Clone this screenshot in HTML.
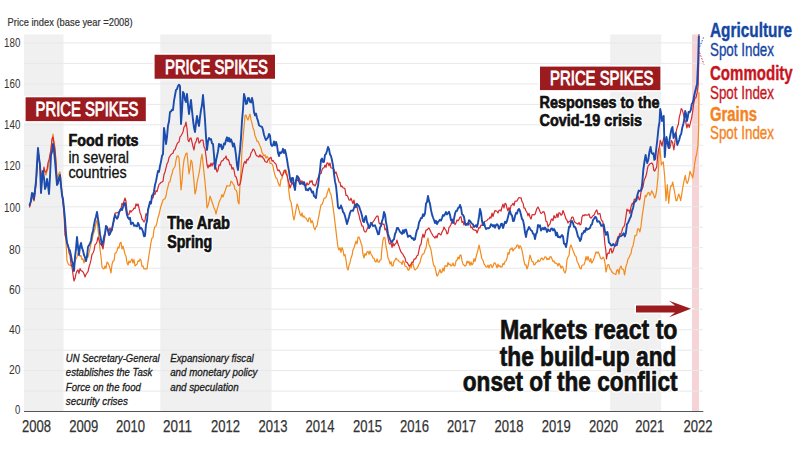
<!DOCTYPE html>
<html><head><meta charset="utf-8"><style>
html,body{margin:0;padding:0;background:#fff;}
svg{display:block;font-family:"Liberation Sans",sans-serif;}
</style></head><body>
<svg width="800" height="450" viewBox="0 0 800 450">
<rect width="800" height="450" fill="#fff"/>
<!-- bands -->
<rect x="24" y="34.5" width="39.5" height="377" fill="#f0f0f0"/>
<rect x="160.3" y="34.5" width="111.2" height="377" fill="#f0f0f0"/>
<rect x="610.2" y="34.5" width="51" height="377" fill="#f0f0f0"/>
<rect x="692" y="34.5" width="7" height="377" fill="#f6d3d5"/>
<g stroke="#e8e8e8" stroke-width="1">
<line x1="24" y1="391.1" x2="703" y2="391.1"/>
<line x1="24" y1="370.6" x2="703" y2="370.6"/>
<line x1="24" y1="350.2" x2="703" y2="350.2"/>
<line x1="24" y1="329.7" x2="703" y2="329.7"/>
<line x1="24" y1="309.2" x2="703" y2="309.2"/>
<line x1="24" y1="288.7" x2="703" y2="288.7"/>
<line x1="24" y1="268.2" x2="703" y2="268.2"/>
<line x1="24" y1="247.7" x2="703" y2="247.7"/>
<line x1="24" y1="227.3" x2="703" y2="227.3"/>
<line x1="24" y1="206.8" x2="703" y2="206.8"/>
<line x1="24" y1="186.3" x2="703" y2="186.3"/>
<line x1="24" y1="165.8" x2="703" y2="165.8"/>
<line x1="24" y1="145.3" x2="703" y2="145.3"/>
<line x1="24" y1="124.8" x2="703" y2="124.8"/>
<line x1="24" y1="104.4" x2="703" y2="104.4"/>
<line x1="24" y1="83.9" x2="703" y2="83.9"/>
<line x1="24" y1="63.4" x2="703" y2="63.4"/>
<line x1="24" y1="42.9" x2="703" y2="42.9"/>
</g>
<line x1="24" y1="411.5" x2="703.3" y2="411.5" stroke="#555" stroke-width="1.1"/>
<g font-size="12.8" fill="#333" text-anchor="end">
<text x="20.4" y="414.2" textLength="5.3" lengthAdjust="spacingAndGlyphs">0</text>
<text x="20.4" y="374.2" textLength="11.5" lengthAdjust="spacingAndGlyphs">20</text>
<text x="20.4" y="334.2" textLength="11.5" lengthAdjust="spacingAndGlyphs">40</text>
<text x="20.4" y="294.4" textLength="11.5" lengthAdjust="spacingAndGlyphs">60</text>
<text x="20.4" y="254.1" textLength="11.5" lengthAdjust="spacingAndGlyphs">80</text>
<text x="20.4" y="212.1" textLength="16.3" lengthAdjust="spacingAndGlyphs">100</text>
<text x="20.4" y="170.2" textLength="16.3" lengthAdjust="spacingAndGlyphs">120</text>
<text x="20.4" y="129.4" textLength="16.3" lengthAdjust="spacingAndGlyphs">140</text>
<text x="20.4" y="88.4" textLength="16.3" lengthAdjust="spacingAndGlyphs">160</text>
<text x="20.4" y="47.4" textLength="16.3" lengthAdjust="spacingAndGlyphs">180</text>
</g>
<g font-size="17.4" fill="#333" stroke="#333" stroke-width="0.25">
<text x="36.6" y="431.5" text-anchor="middle" textLength="29" lengthAdjust="spacingAndGlyphs">2008</text>
<text x="83.8" y="431.5" text-anchor="middle" textLength="29" lengthAdjust="spacingAndGlyphs">2009</text>
<text x="130.6" y="431.5" text-anchor="middle" textLength="29" lengthAdjust="spacingAndGlyphs">2010</text>
<text x="177.5" y="431.5" text-anchor="middle" textLength="29" lengthAdjust="spacingAndGlyphs">2011</text>
<text x="225.4" y="431.5" text-anchor="middle" textLength="29" lengthAdjust="spacingAndGlyphs">2012</text>
<text x="272.9" y="431.5" text-anchor="middle" textLength="29" lengthAdjust="spacingAndGlyphs">2013</text>
<text x="320.0" y="431.5" text-anchor="middle" textLength="29" lengthAdjust="spacingAndGlyphs">2014</text>
<text x="367.4" y="431.5" text-anchor="middle" textLength="29" lengthAdjust="spacingAndGlyphs">2015</text>
<text x="414.6" y="431.5" text-anchor="middle" textLength="29" lengthAdjust="spacingAndGlyphs">2016</text>
<text x="461.6" y="431.5" text-anchor="middle" textLength="29" lengthAdjust="spacingAndGlyphs">2017</text>
<text x="508.9" y="431.5" text-anchor="middle" textLength="29" lengthAdjust="spacingAndGlyphs">2018</text>
<text x="556.2" y="431.5" text-anchor="middle" textLength="29" lengthAdjust="spacingAndGlyphs">2019</text>
<text x="603.4" y="431.5" text-anchor="middle" textLength="29" lengthAdjust="spacingAndGlyphs">2020</text>
<text x="649.8" y="431.5" text-anchor="middle" textLength="29" lengthAdjust="spacingAndGlyphs">2021</text>
<text x="697.9" y="431.5" text-anchor="middle" textLength="29" lengthAdjust="spacingAndGlyphs">2022</text>
</g>
<text x="7.6" y="26" font-size="11" fill="#333" stroke="#333" stroke-width="0.2" textLength="125" lengthAdjust="spacingAndGlyphs">Price index (base year =2008)</text>
<!-- series -->
<g fill="none" stroke-linejoin="round" stroke-linecap="round">
<polyline points="29.6,207.0 30.8,201.2 32.0,195.0 33.0,199.6 34.0,200.0 35.0,188.7 36.0,182.0 37.0,168.5 38.0,150.0 39.0,156.7 40.0,166.0 41.0,172.0 42.0,178.0 43.0,176.5 44.0,170.0 45.0,171.9 46.0,175.0 47.0,171.1 48.0,168.2 49.0,163.0 50.0,157.0 51.0,148.0 52.0,140.4 53.0,134.0 54.0,142.2 55.0,148.0 56.0,160.9 57.0,178.0 58.0,176.1 59.0,173.2 60.0,172.0 61.0,180.5 62.0,193.0 63.0,199.6 64.0,210.0 65.0,228.0 66.0,242.4 67.0,261.0 68.0,263.3 69.0,265.0 70.0,265.1 71.0,265.6 72.0,266.8 73.0,267.0 74.0,261.8 75.0,262.1 76.0,258.8 77.0,257.0 78.0,253.0 79.0,252.8 80.0,256.3 81.0,255.5 82.0,259.7 83.0,258.8 84.0,263.0 85.0,259.5 86.0,261.4 87.0,254.5 88.0,257.2 89.0,253.0 90.0,248.3 91.0,243.5 92.0,240.4 93.0,235.0 94.0,231.8 95.0,229.1 96.0,222.8 97.0,220.0 98.0,229.0 99.0,238.5 100.0,249.0 101.0,256.6 102.0,267.0 103.0,268.4 104.0,269.0 105.0,266.0 106.0,268.3 107.0,262.0 108.0,263.0 109.0,265.3 110.0,268.4 111.0,273.0 112.0,264.5 113.0,261.0 114.0,260.8 115.0,253.2 116.0,253.0 117.0,250.9 118.0,247.0 119.0,248.0 120.0,243.0 121.0,242.2 122.0,249.0 123.0,246.1 124.0,250.0 125.0,254.2 126.0,256.2 127.0,262.8 128.0,265.0 129.0,261.0 130.0,262.7 131.0,260.8 132.0,259.0 133.0,263.0 134.0,259.5 135.0,266.0 136.0,265.0 137.0,264.2 138.0,260.9 139.0,261.4 140.0,259.0 141.0,260.4 142.0,266.5 143.0,266.0 144.0,269.0 145.0,268.8 146.0,268.7 147.0,269.0 148.0,261.8 149.0,255.0 150.0,249.1 151.0,242.2 152.0,238.0 153.0,237.5 154.0,229.5 155.0,226.5 156.0,226.0 157.0,222.7 158.0,217.5 159.0,214.8 160.0,210.0 161.0,206.0 162.0,203.3 163.0,200.0 164.0,199.2 165.0,198.8 166.0,196.0 167.0,190.1 168.0,186.5 169.0,182.0 170.0,181.8 171.0,176.7 172.0,174.0 173.0,169.3 174.0,168.0 175.0,166.5 176.0,160.4 177.0,156.0 178.0,155.8 179.0,158.0 180.0,172.4 181.0,190.0 182.0,181.1 183.0,168.2 184.0,160.0 185.0,156.5 186.0,153.5 187.0,153.0 188.0,163.3 189.0,174.0 190.0,169.0 191.0,160.0 192.0,162.0 193.0,171.2 194.0,181.4 195.0,194.0 196.0,190.5 197.0,182.8 198.0,178.0 199.0,173.6 200.0,167.5 201.0,159.2 202.0,154.0 203.0,163.4 204.0,172.6 205.0,182.0 206.0,193.1 207.0,208.0 208.0,205.8 209.0,201.7 210.0,196.0 211.0,198.7 212.0,201.7 213.0,204.7 214.0,208.0 215.0,209.8 216.0,214.0 217.0,209.6 218.0,206.6 219.0,202.2 220.0,200.0 221.0,198.2 222.0,194.5 223.0,197.0 224.0,194.0 225.0,191.6 226.0,188.2 227.0,185.5 228.0,186.0 229.0,185.9 230.0,185.6 231.0,181.2 232.0,182.0 233.0,183.8 234.0,185.1 235.0,189.4 236.0,190.0 237.0,192.6 238.0,201.7 239.0,204.0 240.0,184.6 241.0,170.0 242.0,150.0 243.0,138.0 244.0,127.2 245.0,116.0 246.0,114.9 247.0,118.4 248.0,120.0 249.0,116.7 250.0,114.0 251.0,119.9 252.0,123.3 253.0,128.0 254.0,130.2 255.0,135.8 256.0,138.0 257.0,141.3 258.0,141.3 259.0,143.5 260.0,146.0 261.0,148.0 262.0,152.6 263.0,153.9 264.0,156.0 265.0,154.8 266.0,158.2 267.0,156.3 268.0,158.0 269.0,158.7 270.0,163.4 271.0,163.1 272.0,164.0 273.0,166.1 274.0,171.6 275.0,175.1 276.0,178.0 277.0,178.7 278.0,182.3 279.0,185.0 280.0,186.0 281.0,179.2 282.0,178.8 283.0,173.0 284.0,172.8 285.0,171.6 286.0,170.0 287.0,173.5 288.0,182.0 289.0,192.4 290.0,200.0 291.0,202.0 292.0,208.0 293.0,215.7 294.0,220.0 295.0,215.1 296.0,209.5 297.0,204.0 298.0,206.0 299.0,210.1 300.0,214.0 301.0,216.1 302.0,212.9 303.0,217.1 304.0,216.0 305.0,217.7 306.0,218.1 307.0,220.0 308.0,221.8 309.0,217.9 310.0,218.0 311.0,223.0 312.0,220.5 313.0,223.0 314.0,228.0 315.0,229.8 316.0,226.9 317.0,226.0 318.0,220.1 319.0,215.5 320.0,210.0 321.0,204.8 322.0,204.5 323.0,202.0 324.0,198.3 325.0,198.2 326.0,197.4 327.0,194.0 328.0,190.6 329.0,188.0 330.0,192.8 331.0,194.5 332.0,200.0 333.0,206.8 334.0,214.0 335.0,222.9 336.0,230.8 337.0,240.0 338.0,247.4 339.0,250.0 340.0,247.7 341.0,252.5 342.0,247.5 343.0,250.0 344.0,255.8 345.0,254.5 346.0,260.0 347.0,267.5 348.0,270.0 349.0,265.4 350.0,262.9 351.0,258.0 352.0,255.6 353.0,249.9 354.0,248.0 355.0,244.5 356.0,241.1 357.0,243.9 358.0,237.1 359.0,237.0 360.0,239.7 361.0,243.0 362.0,246.0 363.0,254.5 364.0,258.0 365.0,253.5 366.0,255.3 367.0,252.0 368.0,251.4 369.0,254.3 370.0,251.0 371.0,254.0 372.0,255.5 373.0,258.0 374.0,258.0 375.0,261.2 376.0,262.0 377.0,258.9 378.0,262.0 379.0,262.2 380.0,260.2 381.0,260.0 382.0,247.8 383.0,240.0 384.0,237.3 385.0,238.0 386.0,246.5 387.0,251.1 388.0,258.0 389.0,259.8 390.0,264.1 391.0,261.6 392.0,266.0 393.0,265.8 394.0,261.4 395.0,260.1 396.0,258.0 397.0,259.8 398.0,260.0 399.0,261.4 400.0,262.0 401.0,262.3 402.0,264.5 403.0,260.6 404.0,262.0 405.0,266.2 406.0,266.3 407.0,267.3 408.0,270.0 409.0,270.1 410.0,265.0 411.0,268.0 412.0,264.0 413.0,263.7 414.0,268.0 415.0,270.0 416.0,269.1 417.0,268.2 418.0,266.6 419.0,264.0 420.0,262.6 421.0,258.3 422.0,255.1 423.0,254.0 424.0,253.4 425.0,250.0 426.0,248.0 427.0,241.4 428.0,238.0 429.0,244.7 430.0,246.6 431.0,250.0 432.0,256.0 433.0,262.3 434.0,266.0 435.0,266.8 436.0,272.0 437.0,276.0 438.0,274.9 439.0,272.0 440.0,269.5 441.0,272.9 442.0,272.0 443.0,268.0 444.0,271.1 445.0,265.5 446.0,266.0 447.0,266.5 448.0,262.5 449.0,264.8 450.0,264.0 451.0,266.0 452.0,265.2 453.0,263.0 454.0,266.0 455.0,265.9 456.0,261.0 457.0,260.2 458.0,257.1 459.0,259.0 460.0,255.0 461.0,255.0 462.0,260.7 463.0,264.1 464.0,265.0 465.0,266.2 466.0,265.6 467.0,261.1 468.0,263.0 469.0,261.3 470.0,265.4 471.0,262.0 472.0,265.0 473.0,263.7 474.0,258.6 475.0,261.5 476.0,257.0 477.0,253.5 478.0,249.8 479.0,245.0 480.0,249.4 481.0,254.5 482.0,259.0 483.0,260.4 484.0,263.8 485.0,265.1 486.0,267.0 487.0,267.2 488.0,265.0 489.0,268.0 490.0,265.0 491.0,264.6 492.0,267.5 493.0,266.4 494.0,263.0 495.0,262.8 496.0,265.0 497.0,267.8 498.0,264.1 499.0,266.7 500.0,265.7 501.0,267.1 502.0,267.0 503.0,263.3 504.0,264.6 505.0,261.5 506.0,261.0 507.0,258.3 508.0,252.5 509.0,254.3 510.0,249.0 511.0,249.4 512.0,247.8 513.0,251.0 514.0,249.1 515.0,248.2 516.0,247.5 517.0,245.0 518.0,245.1 519.0,248.5 520.0,245.7 521.0,247.0 522.0,250.3 523.0,255.7 524.0,261.0 525.0,265.2 526.0,264.8 527.0,269.0 528.0,266.3 529.0,260.7 530.0,255.0 531.0,258.1 532.0,261.5 533.0,261.7 534.0,265.0 535.0,264.6 536.0,262.6 537.0,262.3 538.0,259.9 539.0,261.6 540.0,261.0 541.0,258.5 542.0,257.9 543.0,259.9 544.0,258.8 545.0,256.9 546.0,257.0 547.0,259.8 548.0,258.4 549.0,259.5 550.0,256.8 551.0,256.7 552.0,259.0 553.0,261.6 554.0,260.9 555.0,263.3 556.0,263.0 557.0,263.8 558.0,266.0 559.0,263.3 560.0,265.0 561.0,268.2 562.0,266.1 563.0,267.3 564.0,271.5 565.0,273.0 566.0,270.2 567.0,259.8 568.0,257.0 569.0,255.5 570.0,247.0 571.0,245.0 572.0,247.7 573.0,250.4 574.0,253.0 575.0,255.8 576.0,256.2 577.0,261.3 578.0,263.0 579.0,265.5 580.0,268.3 581.0,269.0 582.0,265.3 583.0,265.0 584.0,264.7 585.0,261.7 586.0,256.5 587.0,260.2 588.0,256.3 589.0,260.0 589.9,261.7 590.8,258.5 591.6,263.0 592.5,262.0 593.8,258.9 595.0,255.0 596.0,251.9 597.0,253.0 598.2,252.0 599.5,255.0 600.5,258.0 601.5,259.0 602.2,258.7 603.0,257.0 604.0,258.4 605.0,263.0 606.0,272.0 606.8,268.6 607.5,265.0 608.8,264.5 610.0,269.0 611.0,270.0 612.0,272.0 613.0,273.0 613.8,273.6 614.5,274.0 615.8,274.5 617.0,270.0 618.0,269.5 619.0,274.0 620.0,267.5 621.0,266.0 622.0,269.1 623.0,269.0 623.8,270.4 624.5,275.0 625.2,271.5 626.0,266.0 627.0,263.4 628.0,259.0 629.0,257.7 630.0,255.0 631.0,253.7 632.0,248.0 633.0,246.0 634.0,241.0 634.9,235.5 635.8,235.8 636.7,234.5 637.6,229.0 638.8,228.9 639.9,232.0 641.0,226.4 642.2,215.6 643.3,208.7 644.3,201.6 645.3,195.3 646.2,196.9 647.1,194.5 648.0,192.7 648.9,192.4 649.8,195.4 650.7,194.0 651.7,190.8 652.7,192.7 653.7,195.0 654.7,198.0 655.7,195.7 656.7,190.0 658.0,176.7 659.3,152.0 660.0,148.0 661.3,165.0 662.3,163.0 663.3,162.0 664.7,176.7 666.0,200.7 667.3,184.7 668.7,203.3 670.0,190.0 670.9,185.7 671.8,186.0 672.7,182.0 673.7,187.4 674.7,192.7 676.0,200.7 676.9,200.6 677.8,197.1 678.7,194.0 679.7,196.6 680.7,200.7 681.6,194.8 682.4,190.0 683.3,184.7 684.3,179.6 685.3,175.3 686.3,181.8 687.3,183.3 688.2,181.1 689.1,177.0 690.0,171.3 690.9,173.6 691.8,175.3 692.7,178.0 693.7,172.3 694.7,163.3 695.7,157.5 696.7,154.0 698.0,145.0 698.6,130.0 699.0,92.7" stroke="#f38a1c" stroke-width="1.2"/>
<polyline points="29.6,207.0 30.8,201.9 32.0,196.0 33.0,196.0 34.0,201.0 35.0,193.2 36.0,185.0 37.0,170.9 38.0,152.0 39.0,157.5 40.0,168.0 41.0,172.3 42.0,180.0 43.0,173.8 44.0,167.0 45.0,172.0 46.0,172.0 47.0,169.6 48.0,162.8 49.0,160.0 50.0,154.6 51.0,150.0 52.0,139.0 53.0,137.0 54.0,143.5 55.0,150.0 56.0,163.4 57.0,180.0 58.0,179.9 59.0,177.9 60.0,178.0 61.0,184.2 62.0,195.0 63.0,203.8 64.0,213.0 65.0,235.0 66.0,238.6 67.0,241.7 68.0,245.6 69.0,253.0 70.0,255.0 71.0,264.0 72.0,266.6 73.0,274.3 74.0,281.0 75.0,278.6 76.0,273.6 77.0,271.0 78.0,269.9 79.0,273.5 80.0,268.5 81.0,270.6 82.0,271.0 83.0,272.0 84.0,273.8 85.0,277.0 86.0,274.5 87.0,273.0 88.0,271.6 89.0,267.0 90.0,263.9 91.0,259.9 92.0,254.4 93.0,253.0 94.0,250.4 95.0,244.8 96.0,243.9 97.0,241.7 98.0,237.0 99.0,239.8 100.0,243.0 101.0,244.7 102.0,245.8 103.0,249.0 104.0,242.7 105.0,235.7 106.0,229.0 107.0,227.7 108.0,229.4 109.0,231.6 110.0,227.8 111.0,230.8 112.0,231.0 113.0,223.0 114.0,221.5 115.0,213.0 116.0,212.8 117.0,213.0 118.0,212.2 119.0,211.8 120.0,211.0 121.0,208.8 122.0,203.3 123.0,204.5 124.0,201.2 125.0,198.0 126.0,201.2 127.0,211.6 128.0,215.0 129.0,214.3 130.0,210.5 131.0,212.1 132.0,210.5 133.0,210.0 134.0,208.1 135.0,208.5 136.0,203.9 137.0,205.7 138.0,204.0 139.0,208.0 140.0,212.7 141.0,214.9 142.0,219.0 143.0,220.2 144.0,222.0 145.0,220.3 146.0,213.5 147.0,215.5 148.0,210.0 149.0,206.2 150.0,203.6 151.0,202.6 152.0,197.9 153.0,198.0 154.0,193.5 155.0,194.3 156.0,190.6 157.0,191.7 158.0,188.0 159.0,184.4 160.0,183.5 161.0,182.4 162.0,182.0 163.0,181.2 164.0,174.5 165.0,172.0 166.0,167.9 167.0,163.9 168.0,162.0 169.0,157.6 170.0,156.0 171.0,154.7 172.0,153.7 173.0,153.2 174.0,150.0 175.0,149.7 176.0,146.8 177.0,144.1 178.0,142.5 179.0,142.0 180.0,136.8 181.0,135.8 182.0,134.0 183.0,132.0 184.0,127.1 185.0,126.0 186.0,122.0 187.0,128.5 188.0,140.0 189.0,141.7 190.0,138.3 191.0,138.0 192.0,142.2 193.0,146.6 194.0,150.0 195.0,143.5 196.0,141.9 197.0,138.0 198.0,137.8 199.0,143.2 200.0,142.0 201.0,140.1 202.0,140.2 203.0,140.0 204.0,146.9 205.0,148.3 206.0,156.0 207.0,164.5 208.0,168.0 209.0,164.9 210.0,166.6 211.0,163.2 212.0,166.0 213.0,163.0 214.0,162.8 215.0,169.5 216.0,167.6 217.0,172.0 218.0,170.3 219.0,164.8 220.0,165.7 221.0,162.0 222.0,160.7 223.0,160.6 224.0,158.6 225.0,158.2 226.0,156.0 227.0,159.6 228.0,159.4 229.0,161.1 230.0,165.0 231.0,164.6 232.0,169.2 233.0,167.5 234.0,170.0 235.0,176.0 236.0,176.8 237.0,179.8 238.0,185.0 239.0,185.4 240.0,184.2 241.0,180.0 242.0,173.2 243.0,167.5 244.0,163.0 245.0,161.2 246.0,163.4 247.0,159.1 248.0,160.0 249.0,157.7 250.0,156.8 251.0,153.0 252.0,151.5 253.0,149.0 254.0,149.7 255.0,151.8 256.0,154.8 257.0,156.0 258.0,156.1 259.0,157.0 260.0,154.8 261.0,157.0 262.0,156.0 263.0,158.0 264.0,159.0 265.0,161.5 266.0,162.0 267.0,162.4 268.0,159.9 269.0,159.2 270.0,158.0 271.0,157.3 272.0,161.2 273.0,160.4 274.0,162.0 275.0,163.3 276.0,163.9 277.0,168.2 278.0,170.9 279.0,170.0 280.0,171.9 281.0,174.2 282.0,176.0 283.0,174.7 284.0,170.8 285.0,170.0 286.0,173.9 287.0,175.3 288.0,180.0 289.0,183.4 290.0,188.0 291.0,185.6 292.0,182.0 293.0,184.2 294.0,186.0 295.0,183.7 296.0,180.7 297.0,180.0 298.0,180.9 299.0,177.8 300.0,180.0 301.0,183.1 302.0,180.7 303.0,183.5 304.0,185.2 305.0,185.5 306.0,186.0 307.0,182.8 308.0,184.8 309.0,184.1 310.0,180.8 311.0,182.0 312.0,180.5 313.0,184.8 314.0,184.7 315.0,186.0 316.0,184.1 317.0,180.3 318.0,178.0 319.0,175.0 320.0,173.6 321.0,173.7 322.0,169.8 323.0,168.0 324.0,167.9 325.0,165.0 326.0,167.3 327.0,162.9 328.0,163.0 329.0,165.9 330.0,163.0 331.0,168.0 332.0,168.0 333.0,168.4 334.0,169.4 335.0,173.4 336.0,172.0 337.0,175.2 338.0,178.5 339.0,182.0 340.0,182.4 341.0,186.9 342.0,186.0 343.0,187.8 344.0,188.0 345.0,188.8 346.0,195.3 347.0,195.3 348.0,197.1 349.0,200.0 350.0,200.3 351.0,198.2 352.0,201.0 353.0,203.7 354.0,200.0 355.0,205.6 356.0,204.0 357.0,206.4 358.0,212.0 359.0,215.0 360.0,219.8 361.0,222.6 362.0,226.0 363.0,226.1 364.0,230.6 365.0,232.0 366.0,231.8 367.0,229.3 368.0,227.0 369.0,228.0 370.0,226.8 371.0,223.3 372.0,223.1 373.0,222.0 374.0,220.7 375.0,218.8 376.0,217.2 377.0,216.0 378.0,216.2 379.0,222.8 380.0,224.0 381.0,223.1 382.0,223.6 383.0,224.4 384.0,224.0 385.0,230.0 386.0,228.5 387.0,232.7 388.0,238.0 389.0,242.9 390.0,244.0 391.0,242.5 392.0,247.5 393.0,243.0 394.0,246.0 395.0,244.1 396.0,243.4 397.0,240.0 398.0,244.1 399.0,246.4 400.0,249.6 401.0,252.0 402.0,253.1 403.0,254.4 404.0,256.4 405.0,258.0 406.0,262.2 407.0,262.4 408.0,263.9 409.0,266.0 410.0,265.2 411.0,264.5 412.0,262.0 413.0,262.6 414.0,259.2 415.0,259.1 416.0,258.0 417.0,255.8 418.0,255.2 419.0,250.0 420.0,245.5 421.0,244.3 422.0,238.0 423.0,234.2 424.0,237.6 425.0,234.0 426.0,230.0 427.0,230.0 428.0,228.8 429.0,228.0 430.0,230.0 431.0,232.3 432.0,234.0 433.0,235.8 434.0,236.9 435.0,238.0 436.0,235.9 437.0,237.8 438.0,234.0 439.0,233.3 440.0,234.2 441.0,235.0 442.0,232.0 443.0,230.3 444.0,227.0 445.0,229.2 446.0,230.3 447.0,234.0 448.0,233.0 449.0,227.5 450.0,226.3 451.0,224.5 452.0,221.0 453.0,219.0 454.0,221.6 455.0,224.6 456.0,223.0 457.0,220.0 458.0,220.8 459.0,219.4 460.0,217.0 461.0,216.7 462.0,222.3 463.0,221.5 464.0,225.0 465.0,223.2 466.0,224.0 467.0,223.4 468.0,223.0 469.0,223.4 470.0,224.1 471.0,227.9 472.0,227.0 473.0,229.5 474.0,229.9 475.0,230.3 476.0,230.1 477.0,233.0 478.0,230.2 479.0,227.4 480.0,227.9 481.0,225.0 482.0,225.4 483.0,224.5 484.0,222.2 485.0,221.3 486.0,221.0 487.0,220.5 488.0,219.0 489.0,219.0 490.0,217.0 491.0,218.1 492.0,213.1 493.0,216.5 494.0,213.0 495.0,210.5 496.0,210.9 497.0,211.2 498.0,213.0 499.0,210.4 500.0,210.0 501.0,211.0 502.0,207.0 503.0,204.2 504.0,208.0 505.0,203.3 506.0,204.0 507.0,208.3 508.0,211.0 509.0,207.5 510.0,210.5 511.0,205.6 512.0,205.0 513.0,203.3 514.0,205.5 515.0,201.4 516.0,201.0 517.0,201.1 518.0,198.9 519.0,197.5 520.0,198.0 521.0,197.7 522.0,201.7 523.0,203.0 524.0,208.2 525.0,208.2 526.0,211.0 527.0,212.3 528.0,215.9 529.0,213.3 530.0,217.0 531.0,219.0 532.0,215.1 533.0,214.4 534.0,215.0 535.0,214.5 536.0,211.3 537.0,208.3 538.0,207.0 539.0,209.1 540.0,211.4 541.0,213.4 542.0,213.0 543.0,211.6 544.0,211.8 545.0,215.0 546.0,221.5 547.0,221.7 548.0,227.0 549.0,224.8 550.0,223.8 551.0,220.0 552.0,219.0 553.0,220.6 554.0,215.5 555.0,218.0 556.0,217.0 557.0,213.7 558.0,217.5 559.0,212.7 560.0,213.0 561.0,215.3 562.0,214.5 563.0,210.5 564.0,213.0 565.0,216.0 566.0,219.0 567.0,220.2 568.0,223.0 569.0,221.4 570.0,221.5 571.0,219.5 572.0,217.0 573.0,217.1 574.0,220.2 575.0,222.5 576.0,223.0 577.0,223.5 578.0,224.2 579.0,222.5 580.0,225.0 581.0,224.2 582.0,217.1 583.0,215.0 584.0,215.9 585.0,214.6 586.0,215.2 587.0,215.2 588.0,215.0 589.0,214.0 590.0,217.2 591.0,218.1 592.0,217.0 593.0,215.7 593.9,215.3 594.9,213.1 595.8,211.2 596.8,209.9 598.0,214.3 599.1,213.7 600.0,213.6 601.0,218.9 601.9,220.7 602.8,221.3 603.9,233.2 605.0,245.0 605.8,250.2 606.5,259.0 607.2,254.8 608.0,253.0 609.0,253.5 610.0,249.0 611.0,248.5 612.0,253.0 613.0,251.4 614.0,248.0 615.0,245.6 616.0,242.0 616.9,240.6 617.8,236.8 618.7,237.9 619.7,233.6 620.7,234.5 621.7,231.9 622.7,227.8 623.8,226.9 624.8,224.3 625.9,216.9 627.0,209.2 628.0,210.9 629.0,209.9 630.0,213.7 631.1,206.4 632.3,203.1 633.3,204.4 634.3,199.2 635.3,200.1 636.3,197.8 637.4,195.6 638.4,197.1 639.2,199.8 640.0,199.0 641.0,192.0 642.0,189.1 643.0,186.9 644.0,181.0 644.9,178.4 645.8,176.6 646.7,173.0 647.6,167.9 648.4,165.2 649.3,165.0 650.2,163.5 651.1,163.4 652.0,163.0 652.9,164.6 653.8,170.2 654.7,171.0 655.7,169.0 656.7,167.0 657.6,156.8 658.5,150.0 659.4,146.8 660.3,140.4 661.1,142.5 662.0,146.1 663.0,141.0 664.0,137.0 665.1,140.9 666.3,138.2 667.4,142.5 668.5,148.0 669.6,148.5 670.5,145.5 671.5,140.5 672.7,142.8 673.9,150.0 675.0,141.2 676.2,131.3 677.3,127.2 678.4,124.0 679.3,117.1 680.3,113.4 681.2,108.6 682.4,110.2 683.5,114.3 684.6,119.4 685.8,122.2 686.9,127.9 688.0,123.9 689.2,127.4 690.3,123.4 691.5,118.3 692.6,112.0 693.7,103.6 694.8,98.4 696.0,97.6 697.1,92.7 698.2,84.8 698.8,60.0 699.0,34.5" stroke="#d42a2f" stroke-width="1.2"/>
<polyline points="29.6,205.0 30.8,201.5 32.0,193.0 33.0,193.5 34.0,199.0 35.0,190.2 36.0,181.0 37.0,163.6 38.0,148.0 39.0,157.8 40.0,165.0 41.0,193.0 42.0,181.0 43.0,171.0 44.0,178.0 45.0,189.0 46.0,186.5 47.0,179.0 48.0,185.1 49.0,194.0 50.0,176.2 51.0,155.0 52.0,152.0 53.0,144.0 54.0,150.4 55.0,161.0 56.0,173.1 57.0,185.0 58.0,183.2 59.0,177.6 60.0,175.0 61.0,186.1 62.0,195.0 63.0,199.0 64.0,208.6 65.0,219.0 66.0,233.5 67.0,243.0 68.0,245.9 69.0,248.8 70.0,251.0 71.0,255.7 72.0,261.0 73.0,265.0 74.0,271.0 75.0,257.2 76.0,248.7 77.0,237.0 78.0,247.1 79.0,255.0 80.0,246.6 81.0,243.0 82.0,247.9 83.0,250.5 84.0,255.0 85.0,257.3 86.0,261.0 87.0,256.5 88.0,247.0 89.0,245.3 90.0,243.4 91.0,241.0 92.0,234.2 93.0,231.0 94.0,225.0 95.0,219.9 96.0,216.4 97.0,212.0 98.0,218.8 99.0,225.0 100.0,234.2 101.0,239.7 102.0,245.0 103.0,242.7 104.0,237.0 105.0,233.2 106.0,226.0 107.0,227.0 108.0,230.5 109.0,235.0 110.0,233.9 111.0,231.1 112.0,229.0 113.0,224.3 114.0,218.6 115.0,215.0 116.0,217.2 117.0,218.7 118.0,217.0 119.0,213.0 120.0,210.0 121.0,208.8 122.0,210.1 123.0,207.0 124.0,203.7 125.0,203.0 126.0,208.8 127.0,215.0 128.0,217.6 129.0,219.0 130.0,217.8 131.0,224.2 132.0,223.0 133.0,222.7 134.0,225.8 135.0,225.4 136.0,226.0 137.0,226.3 138.0,222.8 139.0,225.0 140.0,228.8 141.0,227.8 142.0,229.0 143.0,231.8 144.0,236.2 145.0,236.0 146.0,224.8 147.0,220.8 148.0,210.0 149.0,206.1 150.0,201.8 151.0,203.5 152.0,195.5 153.0,195.0 154.0,191.4 155.0,185.0 156.0,181.3 157.0,176.0 158.0,170.9 159.0,171.8 160.0,166.0 161.0,161.6 162.0,156.0 163.0,154.0 164.0,128.0 165.0,134.6 166.0,144.0 167.0,136.9 168.0,125.7 169.0,121.5 170.0,112.0 171.0,111.4 172.0,109.7 173.0,110.0 174.0,100.8 175.0,95.3 176.0,90.0 177.0,89.1 178.0,86.0 179.0,84.7 180.0,86.0 181.0,124.0 182.0,110.5 183.0,92.0 184.0,93.7 185.0,99.9 186.0,102.0 187.0,94.0 188.0,104.7 189.0,114.0 190.0,106.9 191.0,100.0 192.0,110.6 193.0,120.0 194.0,127.5 195.0,132.0 196.0,123.2 197.0,116.0 198.0,121.9 199.0,126.0 200.0,117.1 201.0,110.0 202.0,105.0 203.0,95.0 204.0,106.9 205.0,120.0 206.0,136.6 207.0,150.0 208.0,141.5 209.0,138.0 210.0,139.6 211.0,139.1 212.0,143.2 213.0,144.0 214.0,155.0 215.0,168.0 216.0,160.6 217.0,156.0 218.0,151.4 219.0,144.0 220.0,146.3 221.0,144.6 222.0,149.3 223.0,148.0 224.0,143.5 225.0,144.4 226.0,140.0 227.0,137.3 228.0,141.2 229.0,138.0 230.0,141.8 231.0,139.3 232.0,142.0 233.0,146.5 234.0,143.5 235.0,148.0 236.0,155.1 237.0,165.2 238.0,170.0 239.0,158.4 240.0,149.9 241.0,138.0 242.0,120.8 243.0,109.5 244.0,94.0 245.0,97.4 246.0,104.0 247.0,103.5 248.0,98.0 249.0,98.2 250.0,102.0 251.0,102.5 252.0,98.0 253.0,102.5 254.0,112.0 255.0,115.4 256.0,113.5 257.0,118.0 258.0,120.9 259.0,125.3 260.0,126.0 261.0,126.5 262.0,126.8 263.0,130.0 264.0,134.8 265.0,137.8 266.0,140.0 267.0,138.4 268.0,137.6 269.0,134.0 270.0,135.5 271.0,144.5 272.0,146.0 273.0,145.3 274.0,141.5 275.0,145.5 276.0,142.0 277.0,145.0 278.0,152.8 279.0,156.0 280.0,152.2 281.0,153.1 282.0,152.0 283.0,148.8 284.0,153.0 285.0,150.0 286.0,154.1 287.0,159.5 288.0,166.0 289.0,171.1 290.0,178.7 291.0,182.0 292.0,178.0 293.0,178.0 294.0,185.7 295.0,190.0 296.0,180.5 297.0,176.0 298.0,176.7 299.0,181.2 300.0,184.0 301.0,183.1 302.0,183.5 303.0,183.9 304.0,182.0 305.0,184.8 306.0,190.0 307.0,189.3 308.0,190.4 309.0,188.8 310.0,188.0 311.0,189.8 312.0,192.5 313.0,191.5 314.0,196.0 315.0,196.9 316.0,198.0 317.0,189.5 318.0,186.0 319.0,177.6 320.0,170.1 321.0,160.0 322.0,158.5 323.0,162.0 324.0,161.8 325.0,154.9 326.0,154.0 327.0,150.8 328.0,147.0 329.0,149.1 330.0,154.5 331.0,156.0 332.0,160.3 333.0,165.5 334.0,174.0 335.0,181.4 336.0,186.0 337.0,195.7 338.0,207.0 339.0,208.6 340.0,208.1 341.0,205.5 342.0,208.0 343.0,211.8 344.0,213.1 345.0,216.0 346.0,219.9 347.0,224.0 348.0,220.5 349.0,217.1 350.0,213.0 351.0,210.6 352.0,210.6 353.0,210.9 354.0,208.0 355.0,204.9 356.0,207.2 357.0,203.8 358.0,205.0 359.0,206.2 360.0,209.4 361.0,212.0 362.0,215.7 363.0,221.1 364.0,222.0 365.0,217.8 366.0,216.0 367.0,222.0 368.0,224.2 369.0,228.0 370.0,226.7 371.0,222.8 372.0,224.0 373.0,226.1 374.0,225.7 375.0,225.3 376.0,228.0 377.0,230.8 378.0,234.2 379.0,234.0 380.0,227.5 381.0,226.0 382.0,221.3 383.0,218.2 384.0,212.0 385.0,214.5 386.0,222.0 387.0,227.1 388.0,234.0 389.0,236.8 390.0,239.3 391.0,241.6 392.0,242.0 393.0,240.1 394.0,239.2 395.0,234.0 396.0,231.8 397.0,227.9 398.0,228.0 399.0,229.9 400.0,231.9 401.0,232.8 402.0,234.0 403.0,230.2 404.0,232.9 405.0,230.0 406.0,229.6 407.0,233.3 408.0,236.9 409.0,236.0 410.0,235.7 411.0,236.9 412.0,238.5 413.0,238.1 414.0,240.0 415.0,239.2 416.0,233.9 417.0,230.0 418.0,228.4 419.0,222.4 420.0,220.5 421.0,218.0 422.0,218.0 423.0,214.2 424.0,216.0 425.0,213.5 426.0,203.5 427.0,202.0 428.0,196.0 429.0,200.9 430.0,203.9 431.0,210.0 432.0,214.4 433.0,217.5 434.0,220.0 435.0,223.0 436.0,220.8 437.0,224.0 438.0,222.0 439.0,220.9 440.0,219.7 441.0,220.6 442.0,218.0 443.0,215.1 444.0,215.8 445.0,214.3 446.0,212.0 447.0,214.4 448.0,213.4 449.0,211.8 450.0,215.0 451.0,220.2 452.0,219.7 453.0,223.0 454.0,218.7 455.0,213.7 456.0,211.0 457.0,210.9 458.0,208.1 459.0,207.6 460.0,205.0 461.0,207.7 462.0,214.2 463.0,215.0 464.0,217.0 465.0,222.8 466.0,225.0 467.0,223.9 468.0,224.8 469.0,220.2 470.0,221.0 471.0,222.6 472.0,223.6 473.0,224.5 474.0,227.0 475.0,226.2 476.0,225.2 477.0,227.0 478.0,222.9 479.0,216.9 480.0,209.0 481.0,212.7 482.0,221.0 483.0,225.1 484.0,222.5 485.0,226.5 486.0,229.0 487.0,228.1 488.0,228.3 489.0,228.2 490.0,227.0 491.0,224.2 492.0,225.0 493.0,226.6 494.0,225.0 495.0,227.8 496.0,225.0 497.0,224.2 498.0,225.4 499.0,228.8 500.0,227.0 501.0,224.0 502.0,223.7 503.0,228.0 504.0,225.0 505.0,221.7 506.0,223.1 507.0,221.0 508.0,217.1 509.0,213.0 510.0,211.0 511.0,214.5 512.0,215.4 513.0,221.0 514.0,220.8 515.0,216.1 516.0,213.0 517.0,213.5 518.0,210.1 519.0,209.0 520.0,211.0 521.0,215.0 522.0,219.0 523.0,220.1 524.0,225.0 525.0,232.3 526.0,237.0 527.0,231.2 528.0,229.6 529.0,227.0 530.0,228.8 531.0,230.2 532.0,231.0 533.0,233.6 534.0,234.2 535.0,239.0 536.0,233.9 537.0,232.2 538.0,225.0 539.0,226.7 540.0,225.3 541.0,230.5 542.0,229.0 543.0,227.9 544.0,229.4 545.0,227.5 546.0,229.0 547.0,232.0 548.0,229.3 549.0,230.6 550.0,231.0 551.0,228.9 552.0,228.4 553.0,230.4 554.0,229.0 555.0,230.7 556.0,235.5 557.0,232.6 558.0,237.0 559.0,236.7 560.0,237.6 561.0,236.3 562.0,235.0 563.0,236.6 564.0,243.5 565.0,243.9 566.0,247.0 567.0,241.9 568.0,233.7 569.0,227.0 570.0,226.6 571.0,221.7 572.0,221.0 573.0,223.1 574.0,226.8 575.0,227.0 576.0,229.0 577.0,232.6 578.0,236.7 579.0,237.8 580.0,241.0 581.0,239.3 582.0,233.5 583.0,233.5 584.0,231.0 585.0,231.9 586.0,228.0 587.0,229.7 588.0,229.0 589.0,228.8 590.0,228.0 591.0,225.0 592.0,224.2 593.0,220.0 594.1,218.6 595.3,216.7 596.3,217.8 597.3,221.7 598.3,221.3 599.3,221.5 600.3,223.5 601.3,225.8 602.5,225.8 603.6,224.3 604.8,230.4 605.9,234.9 606.6,232.9 607.4,231.9 608.1,235.5 608.9,242.4 610.0,243.6 611.2,245.5 612.3,245.2 613.4,244.0 614.5,245.7 615.7,245.5 616.9,244.9 618.0,239.4 619.1,236.7 620.2,236.4 621.4,235.7 622.5,234.9 623.6,233.2 624.8,236.4 625.9,232.9 627.0,224.3 628.1,222.7 629.3,219.8 630.0,218.0 630.8,216.7 632.0,211.1 633.1,207.7 634.2,202.1 635.3,201.6 636.5,200.0 637.6,194.1 638.8,190.5 639.9,191.0 641.0,190.5 642.1,185.0 643.3,170.0 644.4,162.0 645.6,155.0 646.4,159.4 647.2,163.0 648.3,159.7 649.5,151.4 650.6,147.0 651.6,152.8 652.6,154.0 653.5,153.2 654.3,159.8 655.2,159.0 656.2,149.1 657.2,141.0 658.5,128.0 659.5,122.0 660.2,109.0 661.1,113.3 662.0,121.0 662.9,118.4 663.7,116.0 664.8,157.0 665.6,145.4 666.5,137.0 667.6,143.5 668.8,148.0 669.6,139.4 670.5,134.0 671.5,128.9 672.5,127.0 673.5,138.0 674.5,135.4 675.6,133.0 676.5,138.6 677.3,145.0 678.2,142.5 679.2,140.0 680.1,136.0 681.2,133.8 682.2,128.1 683.3,124.0 684.2,120.0 685.2,111.0 686.0,113.5 686.9,121.0 687.8,117.2 688.6,112.0 689.8,112.2 690.9,109.7 691.8,103.8 692.6,102.9 693.5,99.5 694.3,95.0 695.1,91.8 696.0,88.2 697.1,83.7 698.2,60.0 698.8,36.8" stroke="#1b4cae" stroke-width="1.9"/>
</g>
<line x1="699.6" y1="47" x2="703.5" y2="37.5" stroke="#1c50b4" stroke-width="1" stroke-dasharray="1.5,1.5"/>
<line x1="699.6" y1="52.5" x2="704" y2="64.5" stroke="#d42a2f" stroke-width="1" stroke-dasharray="1.5,1.5"/>
<!-- boxes -->
<g fill="#9c1b1f" stroke="#fff" stroke-width="3" paint-order="stroke">
<rect x="25.6" y="97.3" width="120.2" height="23.8"/>
<rect x="154.6" y="54.75" width="120.4" height="24"/>
<rect x="540" y="66.6" width="120.4" height="23.5"/>
</g>
<g fill="#fff" font-size="19.5" stroke="#fff" stroke-width="0.85">
<text x="35.6" y="116.2" textLength="102.8" lengthAdjust="spacingAndGlyphs">PRICE SPIKES</text>
<text x="165" y="74.1" textLength="103" lengthAdjust="spacingAndGlyphs">PRICE SPIKES</text>
<text x="550.1" y="85.4" textLength="103.3" lengthAdjust="spacingAndGlyphs">PRICE SPIKES</text>
</g>
<g fill="#fff" stroke="#fff" stroke-width="3.5" stroke-linejoin="round">
<text x="68.4" y="146" font-size="16.8" font-weight="bold" textLength="70" lengthAdjust="spacingAndGlyphs">Food riots</text>
<text x="68.4" y="162.9" font-size="16.5" textLength="60.5" lengthAdjust="spacingAndGlyphs">in several</text>
<text x="68.4" y="177.8" font-size="16.5" textLength="58.3" lengthAdjust="spacingAndGlyphs">countries</text>
<text x="167.2" y="228.9" font-size="17.5" font-weight="bold" textLength="62.8" lengthAdjust="spacingAndGlyphs">The Arab</text>
<text x="167.2" y="247.8" font-size="17.5" font-weight="bold" textLength="45" lengthAdjust="spacingAndGlyphs">Spring</text>
<text x="539.6" y="107.6" font-size="17.3" font-weight="bold" textLength="120" lengthAdjust="spacingAndGlyphs">Responses to the</text>
<text x="539.6" y="125.6" font-size="17.3" font-weight="bold" textLength="102.4" lengthAdjust="spacingAndGlyphs">Covid-19 crisis</text>
<text x="677.5" y="339.3" font-size="27" font-weight="bold" text-anchor="end" textLength="177.4" lengthAdjust="spacingAndGlyphs">Markets react to</text>
<text x="676.5" y="365.5" font-size="27" font-weight="bold" text-anchor="end" textLength="176.8" lengthAdjust="spacingAndGlyphs">the build-up and</text>
<text x="677.5" y="390.7" font-size="27" font-weight="bold" text-anchor="end" textLength="214.7" lengthAdjust="spacingAndGlyphs">onset of the conflict</text>
</g>
<g fill="#111">
<text x="68.4" y="146" font-size="16.8" font-weight="bold" stroke="#111" stroke-width="0.7" textLength="70" lengthAdjust="spacingAndGlyphs">Food riots</text>
<text x="68.4" y="162.9" font-size="16.5" stroke="#111" stroke-width="0.3" textLength="60.5" lengthAdjust="spacingAndGlyphs">in several</text>
<text x="68.4" y="177.8" font-size="16.5" stroke="#111" stroke-width="0.3" textLength="58.3" lengthAdjust="spacingAndGlyphs">countries</text>
<text x="167.2" y="228.9" font-size="17.5" font-weight="bold" stroke="#111" stroke-width="0.7" textLength="62.8" lengthAdjust="spacingAndGlyphs">The Arab</text>
<text x="167.2" y="247.8" font-size="17.5" font-weight="bold" stroke="#111" stroke-width="0.7" textLength="45" lengthAdjust="spacingAndGlyphs">Spring</text>
<text x="539.6" y="107.6" font-size="17.3" font-weight="bold" stroke="#111" stroke-width="0.7" textLength="120" lengthAdjust="spacingAndGlyphs">Responses to the</text>
<text x="539.6" y="125.6" font-size="17.3" font-weight="bold" stroke="#111" stroke-width="0.7" textLength="102.4" lengthAdjust="spacingAndGlyphs">Covid-19 crisis</text>
<text x="677.5" y="339.3" font-size="27" font-weight="bold" stroke="#111" stroke-width="0.7" text-anchor="end" textLength="177.4" lengthAdjust="spacingAndGlyphs">Markets react to</text>
<text x="676.5" y="365.5" font-size="27" font-weight="bold" stroke="#111" stroke-width="0.7" text-anchor="end" textLength="176.8" lengthAdjust="spacingAndGlyphs">the build-up and</text>
<text x="677.5" y="390.7" font-size="27" font-weight="bold" stroke="#111" stroke-width="0.7" text-anchor="end" textLength="214.7" lengthAdjust="spacingAndGlyphs">onset of the conflict</text>
</g>
<g fill="#1a1a1a" stroke="#1a1a1a" stroke-width="0.3" font-size="11.8" font-style="italic">
<text x="65.8" y="361.8" textLength="93.8" lengthAdjust="spacingAndGlyphs">UN Secretary-General</text>
<text x="65.8" y="376.1" textLength="86.6" lengthAdjust="spacingAndGlyphs">establishes the Task</text>
<text x="65.8" y="390.5" textLength="75" lengthAdjust="spacingAndGlyphs">Force on the food</text>
<text x="65.8" y="404.9" textLength="62" lengthAdjust="spacingAndGlyphs">security crises</text>
<text x="170.2" y="361.8" textLength="83.5" lengthAdjust="spacingAndGlyphs">Expansionary fiscal</text>
<text x="170.2" y="376.1" textLength="87.3" lengthAdjust="spacingAndGlyphs">and monetary policy</text>
<text x="170.2" y="390.5" textLength="68.5" lengthAdjust="spacingAndGlyphs">and speculation</text>
</g>
<polygon points="636,305.5 675,305.5 669,300.8 691,308.8 669,317.2 675,312.5 636,312.5" fill="#9c1b1f" stroke="#fff" stroke-width="2.5" stroke-linejoin="miter" paint-order="stroke"/>
<!-- legend -->
<g font-weight="bold" font-size="20" lengthAdjust="spacingAndGlyphs">
<text x="710" y="37.4" fill="#1446a3" stroke="#1446a3" stroke-width="0.4" textLength="82" lengthAdjust="spacingAndGlyphs">Agriculture</text>
<text x="710" y="80.1" fill="#c8151d" stroke="#c8151d" stroke-width="0.4" textLength="82.7" lengthAdjust="spacingAndGlyphs">Commodity</text>
<text x="710" y="120.6" fill="#f58220" stroke="#f58220" stroke-width="0.4" textLength="47" lengthAdjust="spacingAndGlyphs">Grains</text>
</g>
<g font-size="18.6" stroke-width="0.35">
<text x="710" y="56" fill="#1446a3" stroke="#1446a3" textLength="64" lengthAdjust="spacingAndGlyphs">Spot Index</text>
<text x="710" y="98.7" fill="#c8151d" stroke="#c8151d" textLength="64" lengthAdjust="spacingAndGlyphs">Spot Index</text>
<text x="710" y="139" fill="#f58220" stroke="#f58220" textLength="64" lengthAdjust="spacingAndGlyphs">Spot Index</text>
</g>
</svg>
</body></html>
